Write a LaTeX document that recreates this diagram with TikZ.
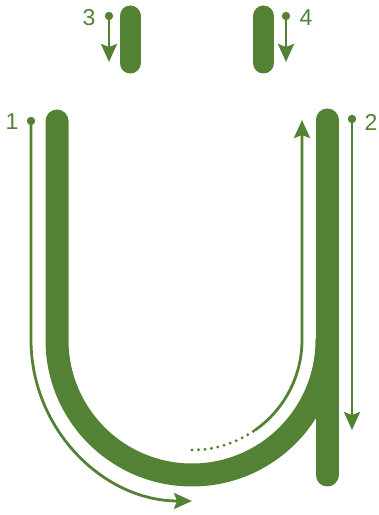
\documentclass[tikz,border=0pt]{standalone}
\usepackage{fontspec}
\setmainfont{Liberation Sans}
\usetikzlibrary{arrows.meta}
\definecolor{leafgreen}{HTML}{548235}

\begin{document}
\begin{tikzpicture}[x=1pt, y=1pt, line cap=round, line join=round,
    letterstroke/.style={draw=leafgreen, line width=23pt},
    dotstroke/.style={draw=leafgreen, line width=21pt},
    guide/.style={draw=leafgreen, line width=2.8pt, -{Stealth[length=18pt, width=16pt, inset=3pt]}},
    startdot/.style={fill=leafgreen},
    num/.style={text=leafgreen, font=\fontsize{23}{23}\selectfont, inner sep=0pt}]
  \useasboundingbox (0,0) rectangle (379,515);

  % centre of the bowl
  \coordinate (bowl) at (192,175);

  % strokes of the letter
  \draw[letterstroke] (57,394) -- (57,175) arc[start angle=180, end angle=360, radius=135];
  \draw[letterstroke] (327,395) -- (327,40);
  \draw[dotstroke] (130,499) -- (130,452);
  \draw[dotstroke] (263.5,499) -- (263.5,452);

  % start points
  \coordinate (s1) at (31,394);
  \coordinate (s2) at (352,396);
  \coordinate (s3) at (109,499);
  \coordinate (s4) at (286,499);
  \foreach \s in {s1,s2,s3,s4}
    \fill[startdot] (\s) circle (4.2pt);

  % numbers
  \node[num] (n1) at (12,393) {1};
  \node[num] (n2) at (371,393) {2};
  \node[num] (n3) at (89,497) {3};
  \node[num] (n4) at (306,497) {4};

  % direction arrows
  \draw[guide] (s1) -- (31,175) arc[start angle=180, end angle=270, radius=161];
  \draw[guide] (s2) -- (352,85);
  \draw[guide] (s3) -- (109,453);
  \draw[guide] (s4) -- (286,453);

  % back up the stem
  \draw[leafgreen, line width=3.3pt, dash pattern=on 0pt off 6.5pt]
    ([shift={(270:110)}]bowl) arc[start angle=270, end angle=305, radius=110];
  \draw[guide] ([shift={(305:110)}]bowl) arc[start angle=305, end angle=360, radius=110] -- (302,395);
\end{tikzpicture}
\end{document}
